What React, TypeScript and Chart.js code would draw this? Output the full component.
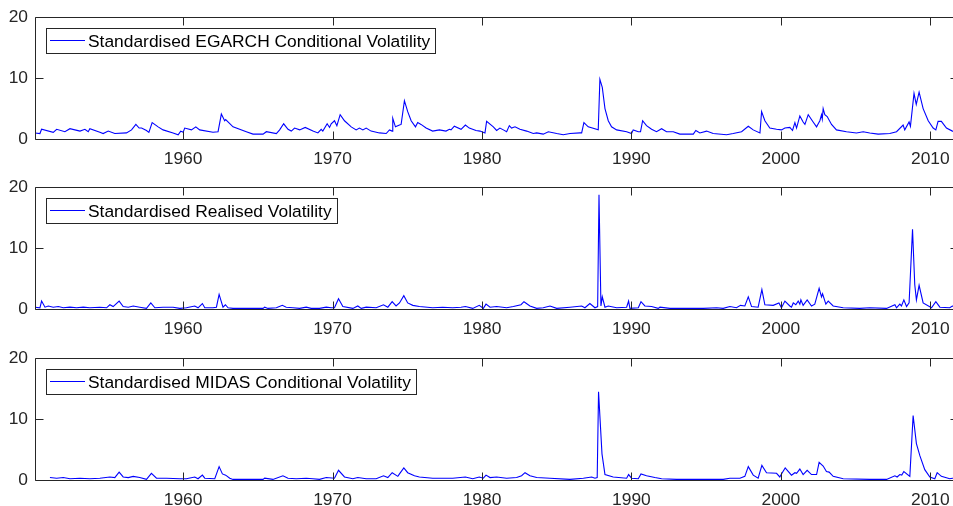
import React, { useEffect, useRef } from 'react';
import { Chart, registerables } from 'chart.js';

Chart.register(...registerables);

// ---- axis ranges / ticks ----
const X_MIN = 1950.09;
const X_MAX = 2011.92;
const Y_MIN = 0;
const Y_MAX = 20;
const xTickValues = [1960, 1970, 1980, 1990, 2000, 2010];
const yTickValues = [0, 10, 20];

// ---- series 1: Standardised EGARCH Conditional Volatility ----
const egarchYears = [
  1950.09, 1950.42, 1950.53, 1951.31, 1951.54, 1952.09, 1952.43, 1953.10, 1953.43, 1953.65,
  1953.76, 1954.43, 1954.65, 1954.99, 1955.43, 1956.21, 1956.55, 1956.84, 1957.06, 1957.22,
  1957.55, 1957.71, 1957.93, 1958.33, 1958.66, 1959.33, 1959.67, 1959.84, 1960.00, 1960.11,
  1960.56, 1960.85, 1961.11, 1962.00, 1962.34, 1962.56, 1962.78, 1962.85, 1963.34, 1964.23,
  1964.68, 1965.35, 1965.57, 1966.24, 1966.46, 1966.73, 1967.02, 1967.24, 1967.46, 1967.80,
  1968.17, 1968.69, 1969.02, 1969.24, 1969.35, 1969.64, 1969.80, 1969.91, 1970.13, 1970.29,
  1970.51, 1970.80, 1971.25, 1971.58, 1971.80, 1972.03, 1972.25, 1972.58, 1973.14, 1973.59,
  1973.81, 1973.99, 1974.03, 1974.21, 1974.48, 1974.59, 1974.81, 1975.03, 1975.26, 1975.55,
  1975.70, 1975.92, 1976.26, 1976.70, 1977.15, 1977.59, 1977.82, 1977.93, 1978.15, 1978.60,
  1978.89, 1979.15, 1979.60, 1979.87, 1980.20, 1980.31, 1980.76, 1980.98, 1981.20, 1981.43,
  1981.65, 1981.83, 1981.98, 1982.21, 1982.54, 1982.99, 1983.43, 1983.66, 1984.10, 1984.44,
  1985.00, 1985.44, 1985.89, 1986.56, 1986.67, 1986.82, 1987.11, 1987.78, 1987.89, 1988.05,
  1988.23, 1988.45, 1988.67, 1989.01, 1989.68, 1990.01, 1990.12, 1990.46, 1990.61, 1990.75,
  1991.01, 1991.35, 1991.68, 1992.02, 1992.35, 1992.80, 1993.24, 1994.14, 1994.31, 1994.58,
  1995.03, 1995.47, 1996.37, 1996.81, 1997.37, 1997.82, 1998.15, 1998.60, 1998.71, 1998.93,
  1999.26, 1999.71, 2000.04, 2000.27, 2000.60, 2000.78, 2000.94, 2001.05, 2001.27, 2001.49,
  2001.61, 2001.83, 2002.16, 2002.39, 2002.50, 2002.61, 2002.72, 2002.77, 2002.83, 2002.94,
  2003.10, 2003.39, 2003.72, 2004.39, 2005.06, 2005.51, 2005.95, 2006.51, 2007.29, 2007.74,
  2008.18, 2008.29, 2008.58, 2008.67, 2008.91, 2009.06, 2009.25, 2009.52, 2009.86, 2010.19,
  2010.37, 2010.52, 2010.74, 2011.08, 2011.48, 2011.90,
];
const egarchValues = [
  1.0, 0.9, 1.6, 1.1, 1.6, 1.2, 1.7, 1.3, 1.6, 1.2,
  1.7, 1.1, 0.9, 1.3, 0.9, 1.0, 1.5, 2.4, 1.8, 1.8,
  1.4, 1.1, 2.7, 2.0, 1.5, 1.0, 0.7, 1.3, 1.1, 1.8,
  1.5, 2.0, 1.5, 1.1, 1.2, 4.1, 3.0, 3.2, 2.0, 1.2,
  0.8, 0.8, 1.2, 0.9, 1.5, 2.5, 1.6, 1.3, 1.8, 1.5,
  1.9, 1.3, 1.0, 1.6, 1.3, 2.5, 1.9, 2.5, 3.0, 2.2,
  4.0, 3.0, 2.0, 1.5, 1.8, 1.5, 1.8, 1.3, 1.0, 0.9,
  1.5, 1.3, 3.4, 2.0, 2.3, 2.4, 6.3, 4.5, 3.0, 2.0,
  2.7, 2.4, 1.8, 1.3, 1.5, 1.3, 1.6, 1.5, 2.1, 1.6,
  2.3, 1.8, 1.4, 1.3, 1.0, 2.9, 2.0, 1.4, 1.8, 1.5,
  1.2, 2.2, 1.8, 2.0, 1.6, 1.3, 0.9, 1.0, 0.8, 1.2,
  0.9, 0.7, 0.9, 1.0, 1.0, 2.7, 2.0, 1.5, 9.8, 8.5,
  5.0, 3.0, 2.0, 1.5, 1.2, 0.9, 1.5, 1.2, 1.2, 3.0,
  2.2, 1.6, 1.2, 1.7, 1.2, 1.2, 0.8, 0.8, 1.4, 1.0,
  1.3, 0.9, 0.7, 0.9, 1.2, 2.1, 1.5, 1.0, 4.5, 3.0,
  1.8, 1.6, 1.5, 1.8, 1.9, 1.4, 2.7, 1.8, 3.8, 2.8,
  2.4, 4.0, 2.8, 2.0, 2.5, 3.0, 4.0, 3.3, 5.0, 4.0,
  3.7, 2.4, 1.5, 1.2, 1.0, 1.2, 1.0, 0.8, 0.9, 1.2,
  2.3, 1.5, 2.8, 2.1, 7.5, 5.7, 7.7, 5.0, 3.0, 1.8,
  1.5, 2.9, 2.9, 1.8, 1.3, 1.2,
];

// ---- series 2: Standardised Realised Volatility ----
const realisedYears = [
  1950.09, 1950.42, 1950.53, 1950.76, 1950.98, 1951.31, 1951.65, 1951.98, 1952.43, 1952.87,
  1953.32, 1953.76, 1954.43, 1954.88, 1955.10, 1955.32, 1955.72, 1955.99, 1956.33, 1956.66,
  1957.10, 1957.55, 1957.84, 1958.11, 1958.66, 1959.33, 1959.78, 1960.22, 1960.78, 1961.00,
  1961.29, 1961.45, 1962.00, 1962.23, 1962.41, 1962.67, 1962.83, 1963.01, 1963.34, 1964.45,
  1965.35, 1965.46, 1965.68, 1966.24, 1966.64, 1966.90, 1967.35, 1967.80, 1968.24, 1968.57,
  1969.13, 1969.58, 1969.91, 1970.13, 1970.40, 1970.69, 1971.36, 1971.69, 1971.92, 1972.25,
  1972.92, 1973.41, 1973.70, 1973.99, 1974.25, 1974.48, 1974.77, 1975.03, 1975.37, 1975.81,
  1976.70, 1977.37, 1978.04, 1978.60, 1978.89, 1979.38, 1979.82, 1980.09, 1980.27, 1980.54,
  1980.98, 1981.65, 1982.10, 1982.61, 1982.81, 1983.21, 1983.66, 1984.10, 1984.55, 1985.00,
  1985.89, 1986.67, 1986.89, 1987.22, 1987.56, 1987.74, 1987.83, 1987.96, 1988.05, 1988.23,
  1988.45, 1989.01, 1989.68, 1989.81, 1989.90, 1990.46, 1990.64, 1990.90, 1991.35, 1991.79,
  1991.91, 1992.58, 1993.69, 1994.81, 1995.70, 1996.14, 1996.59, 1997.03, 1997.30, 1997.59,
  1997.82, 1998.04, 1998.48, 1998.73, 1998.93, 1999.49, 1999.87, 2000.04, 2000.27, 2000.60,
  2000.71, 2000.83, 2001.00, 2001.16, 2001.27, 2001.34, 2001.49, 2001.76, 2002.05, 2002.27,
  2002.56, 2002.72, 2002.79, 2003.01, 2003.17, 2003.50, 2004.17, 2005.28, 2005.95, 2007.07,
  2007.63, 2007.74, 2007.96, 2008.07, 2008.23, 2008.41, 2008.58, 2008.81, 2008.96, 2009.07,
  2009.25, 2009.52, 2010.08, 2010.37, 2010.64, 2011.30, 2011.48, 2011.90,
];
const realisedValues = [
  0.3, 0.2, 1.3, 0.3, 0.5, 0.3, 0.4, 0.2, 0.3, 0.2,
  0.3, 0.2, 0.3, 0.2, 0.7, 0.4, 1.3, 0.4, 0.3, 0.5,
  0.3, 0.1, 1.0, 0.2, 0.3, 0.3, 0.1, 0.2, 0.5, 0.2,
  0.9, 0.2, 0.2, 0.3, 2.4, 0.3, 0.7, 0.2, 0.1, 0.1,
  0.1, 0.3, 0.1, 0.2, 0.6, 0.3, 0.2, 0.1, 0.3, 0.1,
  0.1, 0.3, 0.2, 0.2, 1.7, 0.4, 0.1, 0.5, 0.1, 0.3,
  0.2, 0.7, 0.3, 1.2, 0.5, 1.0, 2.2, 1.0, 0.6, 0.4,
  0.2, 0.3, 0.2, 0.3, 0.4, 0.1, 0.6, 0.1, 0.8, 0.3,
  0.4, 0.2, 0.4, 0.7, 1.2, 0.5, 0.1, 0.2, 0.5, 0.1,
  0.3, 0.5, 0.2, 0.9, 0.2, 0.4, 18.8, 0.5, 2.0, 0.3,
  0.5, 0.2, 0.3, 1.3, 0.1, 0.2, 1.2, 0.5, 0.4, 0.1,
  0.3, 0.1, 0.1, 0.1, 0.2, 0.1, 0.4, 0.2, 0.6, 0.5,
  2.0, 0.4, 0.3, 3.2, 0.7, 0.6, 1.0, 0.2, 1.3, 0.5,
  0.3, 1.0, 0.7, 1.3, 0.8, 1.5, 0.6, 1.5, 0.5, 0.8,
  3.4, 2.0, 2.5, 0.8, 1.3, 0.5, 0.2, 0.1, 0.2, 0.1,
  0.7, 0.2, 0.8, 0.5, 1.5, 0.4, 1.0, 13.1, 4.0, 1.5,
  3.9, 1.0, 0.2, 1.2, 0.3, 0.2, 0.5, 0.4,
];

// ---- series 3: Standardised MIDAS Conditional Volatility ----
const midasYears = [
  1951.09, 1951.54, 1951.98, 1952.43, 1953.10, 1953.76, 1954.43, 1955.10, 1955.43, 1955.72,
  1955.99, 1956.33, 1956.66, 1957.10, 1957.55, 1957.88, 1958.22, 1958.89, 1959.78, 1960.22,
  1960.78, 1961.00, 1961.29, 1961.45, 1962.12, 1962.41, 1962.63, 1962.85, 1963.12, 1963.34,
  1965.35, 1965.46, 1966.01, 1966.68, 1967.02, 1967.57, 1968.24, 1968.69, 1969.13, 1969.58,
  1970.13, 1970.40, 1970.80, 1971.36, 1971.69, 1972.25, 1972.92, 1973.41, 1973.70, 1973.99,
  1974.37, 1974.48, 1974.77, 1975.03, 1975.48, 1975.81, 1976.70, 1977.37, 1978.04, 1978.89,
  1979.38, 1979.82, 1980.09, 1980.27, 1980.54, 1980.98, 1981.65, 1982.32, 1982.65, 1982.88,
  1983.21, 1983.66, 1984.55, 1985.89, 1986.78, 1987.34, 1987.56, 1987.71, 1987.80, 1988.03,
  1988.23, 1988.78, 1989.68, 1989.81, 1990.01, 1990.46, 1990.64, 1991.01, 1991.57, 1992.02,
  1993.02, 1994.81, 1996.14, 1996.59, 1997.26, 1997.59, 1997.82, 1998.15, 1998.48, 1998.73,
  1999.04, 1999.71, 1999.93, 2000.04, 2000.29, 2000.71, 2000.94, 2001.05, 2001.27, 2001.49,
  2001.76, 2002.05, 2002.39, 2002.56, 2002.83, 2003.05, 2003.23, 2003.50, 2004.17, 2005.95,
  2007.07, 2007.63, 2007.78, 2007.96, 2008.09, 2008.23, 2008.63, 2008.85, 2009.07, 2009.30,
  2009.63, 2009.97, 2010.30, 2010.46, 2010.74, 2011.30, 2011.48, 2011.90,
];
const midasValues = [
  0.4, 0.3, 0.4, 0.2, 0.3, 0.2, 0.3, 0.5, 0.4, 1.3,
  0.5, 0.4, 0.6, 0.4, 0.1, 1.1, 0.3, 0.3, 0.2, 0.2,
  0.5, 0.2, 0.8, 0.3, 0.2, 2.2, 1.0, 0.8, 0.3, 0.1,
  0.1, 0.3, 0.1, 0.7, 0.3, 0.2, 0.3, 0.2, 0.1, 0.4,
  0.3, 1.6, 0.5, 0.2, 0.4, 0.2, 0.2, 0.7, 0.4, 1.2,
  0.6, 1.0, 2.0, 1.2, 0.7, 0.5, 0.3, 0.3, 0.3, 0.5,
  0.2, 0.5, 0.3, 0.8, 0.4, 0.5, 0.3, 0.4, 0.7, 1.2,
  0.7, 0.4, 0.3, 0.1, 0.3, 0.5, 0.3, 0.4, 14.5, 4.3,
  0.9, 0.5, 0.3, 0.9, 0.3, 0.2, 1.0, 0.7, 0.4, 0.2,
  0.1, 0.1, 0.1, 0.3, 0.3, 0.6, 2.2, 0.8, 0.3, 2.4,
  1.2, 1.1, 0.5, 1.0, 2.0, 0.8, 1.2, 1.1, 1.8, 0.9,
  1.6, 0.9, 0.9, 2.9, 2.3, 1.4, 1.3, 0.6, 0.2, 0.1,
  0.1, 0.7, 0.5, 0.9, 0.8, 1.4, 0.6, 10.6, 6.0, 4.0,
  1.7, 0.5, 0.2, 1.2, 0.6, 0.2, 0.3, 0.3,
];

const seriesLabels = [
  'Standardised EGARCH Conditional Volatility',
  'Standardised Realised Volatility',
  'Standardised MIDAS Conditional Volatility',
];

const LINE_COLOR = '#0000ff';
const AXIS_COLOR = '#262626';
const FONT_FAMILY = '"Liberation Sans", Arial, Helvetica, sans-serif';
const FONT_SIZE = 17.4;

const framePlugin = {
  id: 'matlabFrame',
  afterDatasetsDraw(chart: any, _args: any, opts: any) {
    const { ctx, chartArea: a, scales } = chart;
    ctx.save();
    ctx.strokeStyle = AXIS_COLOR;
    ctx.lineWidth = 1;
    const L = Math.round(a.left) + 0.5;
    const R = Math.round(a.right) - 0.5;
    const T = Math.round(a.top) + 0.5;
    const B = Math.round(a.bottom) + 0.5;
    ctx.beginPath();
    ctx.moveTo(L, T);
    ctx.lineTo(R, T);
    ctx.lineTo(R, B);
    ctx.lineTo(L, B);
    ctx.closePath();
    const tl = 8;
    for (const v of xTickValues) {
      const px = Math.round(scales.x.getPixelForValue(v)) + 0.5;
      ctx.moveTo(px, B);
      ctx.lineTo(px, B - tl);
      ctx.moveTo(px, T);
      ctx.lineTo(px, T + tl);
    }
    for (const v of yTickValues) {
      const py = Math.round(scales.y.getPixelForValue(v)) + 0.5;
      ctx.moveTo(L, py);
      ctx.lineTo(L + tl, py);
      ctx.moveTo(R, py);
      ctx.lineTo(R - tl, py);
    }
    ctx.stroke();

    // legend box
    const text = opts.text as string;
    ctx.font = `${FONT_SIZE}px ${FONT_FAMILY}`;
    const tw = ctx.measureText(text).width;
    const bx = Math.round(a.left) + 11.5;
    const by = Math.round(a.top) + 11.5;
    const bw = Math.round(41 + tw + 6);
    const bh = 25;
    ctx.fillStyle = '#ffffff';
    ctx.fillRect(bx, by, bw, bh);
    ctx.strokeStyle = AXIS_COLOR;
    ctx.strokeRect(bx, by, bw, bh);
    ctx.strokeStyle = LINE_COLOR;
    ctx.beginPath();
    const ly = by + 12;
    ctx.moveTo(bx + 3.5, ly);
    ctx.lineTo(bx + 38.5, ly);
    ctx.stroke();
    ctx.fillStyle = '#000000';
    ctx.textBaseline = 'middle';
    ctx.textAlign = 'left';
    ctx.fillText(text, bx + 41.5, by + bh / 2 + 1);
    ctx.restore();
  },
};

function Panel({ years, values, label }: { years: number[]; values: number[]; label: string }) {
  const ref = useRef<HTMLCanvasElement | null>(null);
  useEffect(() => {
    if (!ref.current) return;
    const chart = new Chart(ref.current, {
      type: 'line',
      data: {
        datasets: [
          {
            label,
            data: years.map((x, i) => ({ x, y: values[i] })),
            borderColor: LINE_COLOR,
            backgroundColor: LINE_COLOR,
            borderWidth: 1.1,
            pointRadius: 0,
            tension: 0,
            fill: false,
          },
        ],
      },
      options: {
        animation: false,
        responsive: false,
        events: [],
        layout: { padding: { top: 17, right: 1, left: 0, bottom: 0 } },
        plugins: {
          legend: { display: false },
          tooltip: { enabled: false },
          matlabFrame: { text: label },
        } as any,
        scales: {
          x: {
            type: 'linear',
            min: X_MIN,
            max: X_MAX,
            grid: { display: false, drawTicks: false },
            border: { display: false },
            ticks: {
              includeBounds: false,
              stepSize: 10,
              autoSkip: false,
              maxRotation: 0,
              padding: 10,
              color: AXIS_COLOR,
              font: { family: FONT_FAMILY, size: FONT_SIZE },
              callback: (v: any) => (xTickValues.includes(Number(v)) ? String(v) : ''),
            },
            afterFit: (s: any) => {
              s.height = 31;
            },
          },
          y: {
            type: 'linear',
            min: Y_MIN,
            max: Y_MAX,
            grid: { display: false, drawTicks: false },
            border: { display: false },
            ticks: {
              stepSize: 10,
              padding: 7,
              color: AXIS_COLOR,
              font: { family: FONT_FAMILY, size: FONT_SIZE },
              callback: (v: any) => String(v),
            },
            afterFit: (s: any) => {
              s.width = 35;
            },
          },
        },
      },
      plugins: [framePlugin],
    } as any);
    return () => chart.destroy();
  }, [years, values, label]);
  return <canvas ref={ref} width={960} height={170} style={{ display: 'block' }} />;
}

const panelTops = [0, 170, 341];

export default function App() {
  const sets = [
    { years: egarchYears, values: egarchValues },
    { years: realisedYears, values: realisedValues },
    { years: midasYears, values: midasValues },
  ];
  return (
    <div
      style={{
        position: 'absolute',
        left: 0,
        top: 0,
        width: 953,
        height: 506,
        overflow: 'hidden',
        background: '#ffffff',
      }}
    >
      {sets.map((s, i) => (
        <div key={i} style={{ position: 'absolute', left: 0, top: panelTops[i], width: 960, height: 170 }}>
          <Panel years={s.years} values={s.values} label={seriesLabels[i]} />
        </div>
      ))}
    </div>
  );
}
